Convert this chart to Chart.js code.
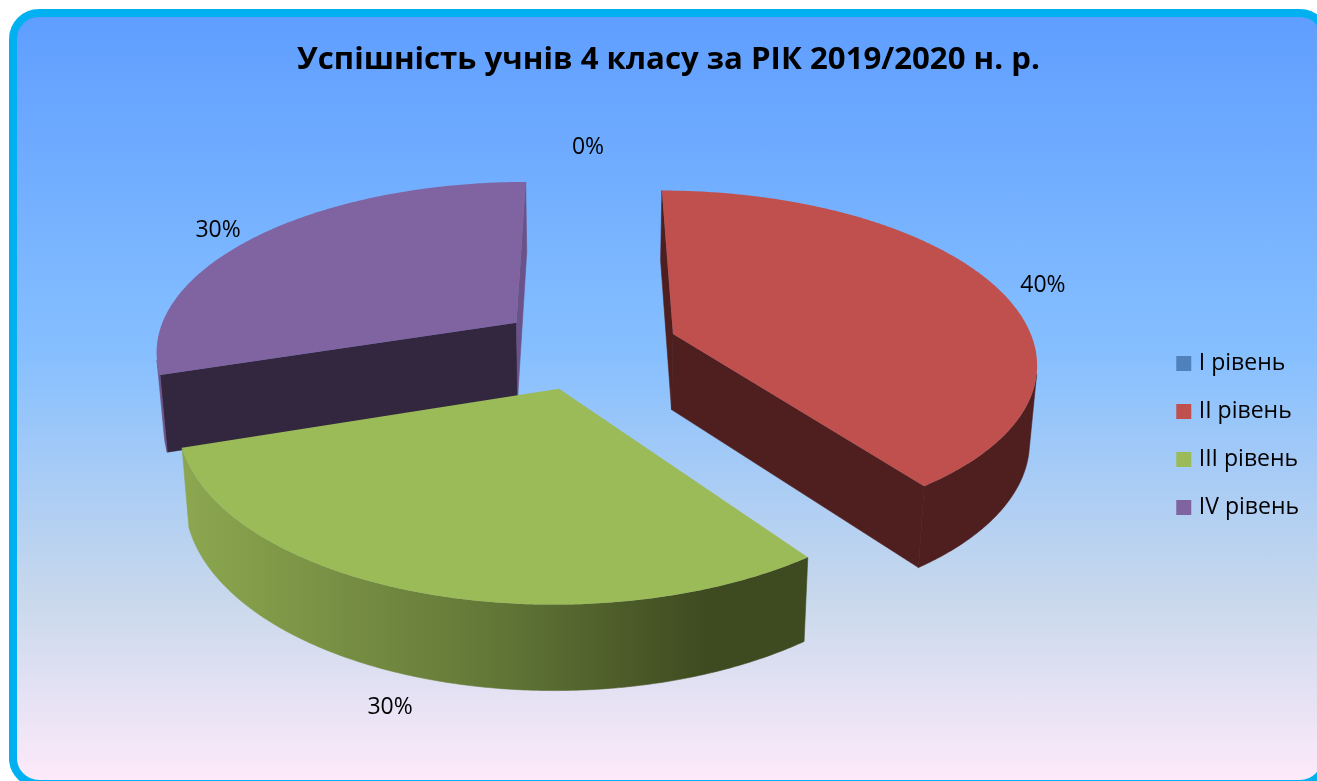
<!DOCTYPE html>
<html>
<head>
<meta charset="utf-8">
<title>Успішність учнів</title>
<script src="https://cdn.jsdelivr.net/npm/chart.js@4"></script>
<style>
  html, body { margin: 0; padding: 0; background: #fff; overflow: hidden; width: 1317px; height: 781px; }
  #frame {
    position: absolute; left: 9px; top: 9px; width: 1305px; height: 763px;
    border: 8px solid #00b0f0; border-radius: 30px;
    background: linear-gradient(to bottom, #5f9eff 0%, #86bfff 44%, #c8d8ec 76%, #fdeafa 100%);
  }
  canvas { position: absolute; left: 0; top: 0; }
</style>
</head>
<body>
<div id="frame"></div>
<canvas id="chart" width="1317" height="781"></canvas>
<script>
const titleText = "Успішність учнів 4 класу за РІК 2019/2020 н. р.";
const categories = ["I рівень", "II рівень", "III рівень", "IV рівень"];
const percents = [0, 40, 30, 30];
const topColors = ["#4f81bd", "#c0504d", "#9bbb59", "#8064a2"];
const wallColors = ["#2a4562", "#4e1f1e", "#3e4a20", "#6b5288"];
const cutColors = ["#2a4562", "#4e1f1e", "#3e4a20", "#33263f"];

// where each percent label sits around its slice
const labelRadii = [1.19, 1.135, 1.125, 1.13];
const labelTurns = [0, 0.04, 0.02, -0.04];

// perspective of the tilted pie, fitted by eye
const view = { cx: 588, cy: 347, sx: 362, sy: 169, k: 0.152, depth: 76, depthGrow: 43, shrink: 0.017 };

function project(u, v, z) {
  const s = 1 / (1 - view.k * v);
  const sz = 1 - view.shrink * z;
  return {
    x: view.cx + view.sx * u * s * sz,
    y: view.cy + view.sy * v * s + z * (view.depth + view.depthGrow * (s - 1))
  };
}

// plan position of a point on an arc element, in units of its radius
function planPoint(arc, angle, r) {
  const mid = (arc.startAngle + arc.endAngle) / 2;
  const off = arc.options.offset / arc.outerRadius;
  return {
    u: Math.cos(mid) * off + Math.cos(angle) * r,
    v: Math.sin(mid) * off + Math.sin(angle) * r
  };
}

// a wall is visible when its top edge runs against the clockwise order on screen
function facesViewer(a, b) {
  const pts = [project(a.u, a.v, 0), project(b.u, b.v, 0), project(b.u, b.v, 1), project(a.u, a.v, 1)];
  let area = 0;
  pts.forEach((p, i) => {
    const q = pts[(i + 1) % 4];
    area += p.x * q.y - q.x * p.y;
  });
  return area < 0;
}

// fills the wall under a run of plan points
function fillWall(ctx, run, style) {
  ctx.beginPath();
  run.forEach((pt, i) => {
    const p = project(pt.u, pt.v, 0);
    i ? ctx.lineTo(p.x, p.y) : ctx.moveTo(p.x, p.y);
  });
  run.slice().reverse().forEach(pt => {
    const p = project(pt.u, pt.v, 1);
    ctx.lineTo(p.x, p.y);
  });
  ctx.closePath();
  ctx.fillStyle = style;
  ctx.strokeStyle = style;
  ctx.lineWidth = 0.6; // hides the seam between neighbouring walls
  ctx.fill();
  ctx.stroke();
}

function drawSlice(ctx, arc, index) {
  const steps = Math.ceil((arc.endAngle - arc.startAngle) / 0.01);
  const apex = planPoint(arc, arc.startAngle, 0);
  const rim = [];
  for (let i = 0; i <= steps; i++) {
    const a = arc.startAngle + (arc.endAngle - arc.startAngle) * i / steps;
    rim.push(planPoint(arc, a, 1));
  }

  let wall = wallColors[index];
  if (index === 2) {
    wall = ctx.createLinearGradient(190, 0, 800, 0);
    wall.addColorStop(0, "#8ba64f");
    wall.addColorStop(0.5, "#627737");
    wall.addColorStop(0.85, "#3e4a20");
    wall.addColorStop(1, "#3e4a20");
  }

  // straight cut walls
  if (facesViewer(apex, rim[0])) fillWall(ctx, [apex, rim[0]], cutColors[index]);
  const last = rim[rim.length - 1];
  if (facesViewer(last, apex)) fillWall(ctx, [last, apex], wallColors[index]);

  // curved outer wall
  const run = [];
  for (let i = 0; i < rim.length - 1; i++) {
    if (facesViewer(rim[i], rim[i + 1])) {
      if (!run.length) run.push(rim[i]);
      run.push(rim[i + 1]);
    }
  }
  if (run.length) fillWall(ctx, run, wall);

  ctx.beginPath();
  let p = project(apex.u, apex.v, 0);
  ctx.moveTo(p.x, p.y);
  rim.forEach(pt => {
    p = project(pt.u, pt.v, 0);
    ctx.lineTo(p.x, p.y);
  });
  ctx.closePath();
  ctx.fillStyle = arc.options.backgroundColor;
  ctx.fill();
}

const pie3d = {
  id: "pie3d",
  // legend is centred on the space under the title
  afterLayout(chart) {
    chart.legend.top += 90;
  },
  beforeDatasetsDraw(chart) {
    const ctx = chart.ctx;
    const arcs = chart.getDatasetMeta(0).data;
    const order = arcs.map((arc, i) => i)
      .filter(i => arcs[i].circumference > 0)
      .sort((a, b) => planPoint(arcs[a], arcs[a].startAngle, 0).v - planPoint(arcs[b], arcs[b].startAngle, 0).v);

    ctx.save();
    order.forEach(i => drawSlice(ctx, arcs[i], i));

    // percent labels
    ctx.fillStyle = "#000";
    ctx.font = '23px "Open Sans"';
    ctx.textAlign = "center";
    ctx.textBaseline = "middle";
    arcs.forEach((arc, i) => {
      const mid = (arc.startAngle + arc.endAngle) / 2;
      const off = arc.options.offset / arc.outerRadius;
      const turned = mid + labelTurns[i];
      const u = Math.cos(mid) * off + Math.cos(turned) * labelRadii[i];
      const v = Math.sin(mid) * off + Math.sin(turned) * labelRadii[i];
      const z = Math.sin(mid) > 0.5 ? 1 : 0;
      const pos = project(u, v, z);
      ctx.fillText(percents[i] + "%", pos.x, pos.y);
    });
    ctx.restore();
    return false; // slices are already drawn
  }
};

new Chart(document.getElementById("chart"), {
  type: "pie",
  data: {
    labels: categories,
    datasets: [{
      data: percents,
      backgroundColor: topColors,
      borderWidth: 0,
      offset: 77
    }]
  },
  options: {
    responsive: false,
    animation: false,
    events: [],
    layout: { padding: { left: 28, right: 8 } },
    plugins: {
      title: {
        display: true,
        text: titleText,
        color: "#000",
        font: { family: '"Open Sans"', size: 31.2, weight: "bold" },
        padding: { top: 41, bottom: 9 }
      },
      legend: {
        position: "right",
        labels: {
          color: "#000",
          font: { family: '"Open Sans"', size: 23 },
          boxWidth: 7,
          boxHeight: 7,
          padding: 25,
          // thick same-colour outline so the square sits closer to its text
          generateLabels(chart) {
            const items = Chart.overrides.pie.plugins.legend.labels.generateLabels(chart);
            items.forEach(item => {
              item.strokeStyle = item.fillStyle;
              item.lineWidth = 8;
            });
            return items;
          }
        }
      },
      tooltip: { enabled: false }
    }
  },
  plugins: [pie3d]
});
</script>
</body>
</html>
